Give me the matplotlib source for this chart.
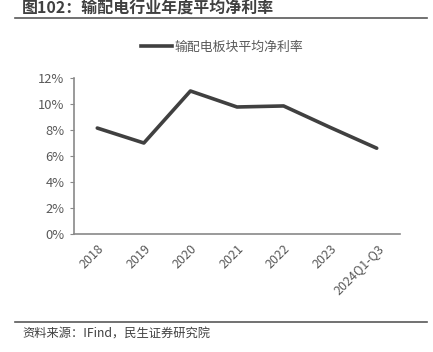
import numpy as np
import matplotlib.pyplot as plt
from matplotlib.lines import Line2D

plt.rcParams['font.family'] = ['Noto Sans CJK SC', 'DejaVu Sans']

# data
categories = ['2018', '2019', '2020', '2021', '2022', '2023', '2024Q1-Q3']
net_margin = [8.15, 7.0, 11.0, 9.77, 9.85, 8.2, 6.6]   # %
yticks = [0, 2, 4, 6, 8, 10, 12]

W, H = 433, 352
fig = plt.figure(figsize=(W / 100, H / 100), dpi=100)

ax = fig.add_axes([74 / W, 1 - 234 / H, 326 / W, 156 / H])
x = np.arange(len(categories))
ax.plot(x, net_margin, color='#404040', lw=2.6, solid_capstyle='round',
        label='输配电板块平均净利率')
ax.set_xlim(-0.5, len(categories) - 0.5)
ax.set_ylim(0, 12)
ax.set_yticks(yticks)
ax.set_yticklabels([f'{v}%' for v in yticks], fontsize=9.3, color='#595959')
ax.set_xticks(x)
ax.set_xticklabels(categories, rotation=45, ha='right', rotation_mode='anchor',
                   fontsize=9, color='#595959')
ax.tick_params(axis='x', length=0, pad=6)
ax.tick_params(axis='y', length=3, color='#898989', pad=4)
for s in ['top', 'right']:
    ax.spines[s].set_visible(False)
for s in ['left', 'bottom']:
    ax.spines[s].set_color('#898989')
    ax.spines[s].set_linewidth(1.2)

# legend
fig.legend(handles=[Line2D([0], [0], color='#404040', lw=2.6)],
           labels=['输配电板块平均净利率'], loc='center',
           bbox_to_anchor=(222 / W, 1 - 47 / H), frameon=False, fontsize=9.3,
           handlelength=2.4, handletextpad=0.15, labelcolor='#595959')

# title and footer
fig.text(22 / W, 1 - 8 / H, '图102：输配电行业年度平均净利率', fontsize=11.5,
         fontweight='bold', color='#404040', va='center', ha='left')
fig.add_artist(Line2D([15 / W, 427 / W], [1 - 18 / H, 1 - 18 / H],
                      color='#595959', lw=1.2))
fig.add_artist(Line2D([15 / W, 427 / W], [1 - 322 / H, 1 - 322 / H],
                      color='#595959', lw=1.2))
fig.text(22 / W, 1 - 334 / H, '资料来源：IFind，民生证券研究院', fontsize=8.8,
         color='#404040', va='center', ha='left')

fig.savefig('out.png', dpi=100)
